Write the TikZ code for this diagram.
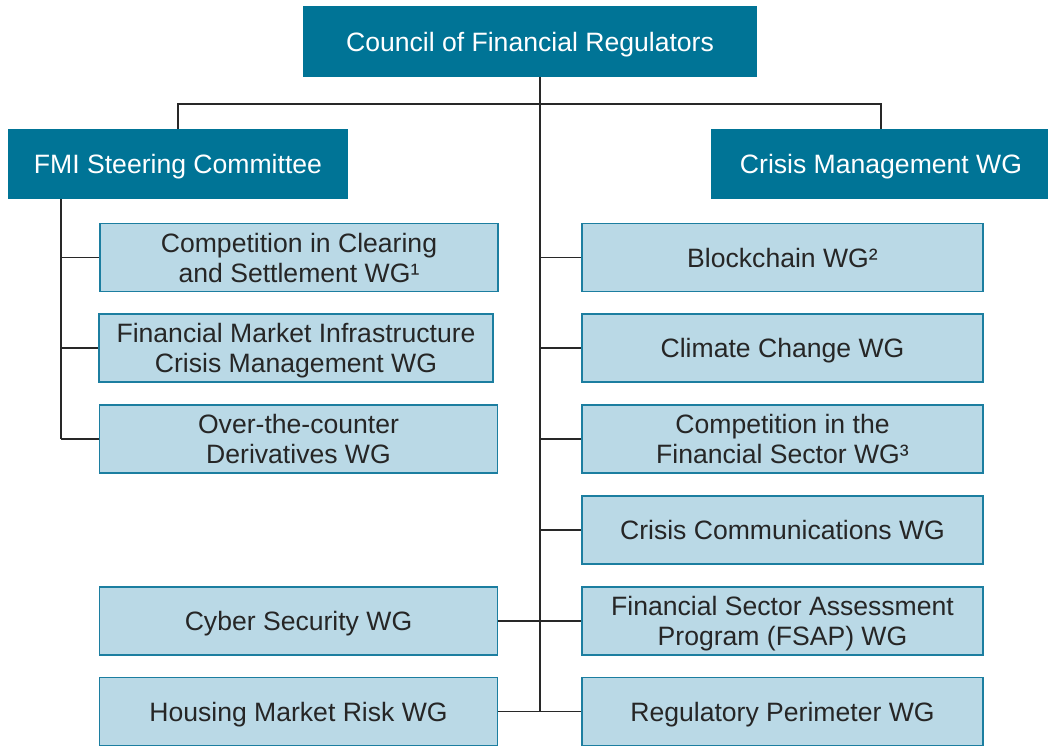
\documentclass[tikz,border=0pt]{standalone}
\usepackage{fontspec}
\setmainfont{Liberation Sans}
\definecolor{cfrteal}{RGB}{0,116,150}
\definecolor{wgfill}{RGB}{186,217,230}
\definecolor{wgline}{RGB}{28,126,160}
\definecolor{linkgray}{RGB}{40,40,40}
\tikzset{
  headbox/.style={rectangle, fill=cfrteal, text=white, minimum height=1.75cm, inner sep=0pt, text depth=0pt, align=center, font=\fontsize{18.9}{21.3}\selectfont},
  wgbox/.style={rectangle, draw=wgline, line width=1.1pt, fill=wgfill, text=black!85, minimum height=1.7cm, inner sep=0pt, text depth=0pt, align=center, font=\fontsize{18.9}{21.3}\selectfont},
  link/.style={draw=linkgray, line width=1.4pt}
}
\begin{document}
\begin{tikzpicture}[x=0.025cm, y=-0.025cm]
    \clip (0,0) rectangle (1048,745);
    % top level
    \node[headbox, minimum width=11.35cm] (council) at (530,41.5) {Council of Financial Regulators};
    \node[headbox, minimum width=8.5cm] (fmi) at (178,164) {FMI Steering Committee};
    \node[headbox, minimum width=8.5cm] (crisis) at (881,164) {Crisis Management WG};
    % working groups under the FMI Steering Committee
    \node[wgbox, minimum width=9.95cm] (clearing) at (299,257.5) {Competition in Clearing\\and Settlement WG¹};
    \node[wgbox, minimum width=9.85cm] (fmicrisis) at (296,348) {Financial Market Infrastructure\\Crisis Management WG};
    \node[wgbox, minimum width=9.95cm] (otc) at (298.5,439) {Over-the-counter\\Derivatives WG};
    \node[wgbox, minimum width=9.95cm] (cyber) at (298.5,621) {Cyber Security WG};
    \node[wgbox, minimum width=9.95cm] (housing) at (298.5,711.5) {Housing Market Risk WG};
    % working groups on the right
    \node[wgbox, minimum width=10.025cm] (blockchain) at (782.5,257.5) {Blockchain WG²};
    \node[wgbox, minimum width=10.025cm] (climate) at (782.5,348) {Climate Change WG};
    \node[wgbox, minimum width=10.025cm] (compsector) at (782.5,439) {Competition in the\\Financial Sector WG³};
    \node[wgbox, minimum width=10.025cm] (crisiscomm) at (782.5,530) {Crisis Communications WG};
    \node[wgbox, minimum width=10.025cm] (fsap) at (782.5,621) {Financial Sector Assessment\\Program (FSAP) WG};
    \node[wgbox, minimum width=10.025cm] (perimeter) at (782.5,711.5) {Regulatory Perimeter WG};
    % connectors
    \coordinate (spine) at (540,104);
    \coordinate (fmistem) at (61,200);
    \draw[link] (spine |- council.south) -- (spine |- perimeter.west);
    \draw[link] (fmi.north) |- (spine) -| (crisis.north);
    \draw[link] (fmistem |- fmi.south) -- (fmistem |- otc.west);
    \foreach \wg in {clearing, fmicrisis, otc}
        \draw[link] (fmistem |- \wg.west) -- (\wg.west);
    \foreach \wg in {blockchain, climate, compsector, crisiscomm, fsap, perimeter}
        \draw[link] (spine |- \wg.west) -- (\wg.west);
    \foreach \wg in {cyber, housing}
        \draw[link] (\wg.east) -- (spine |- \wg.east);
\end{tikzpicture}
\end{document}
